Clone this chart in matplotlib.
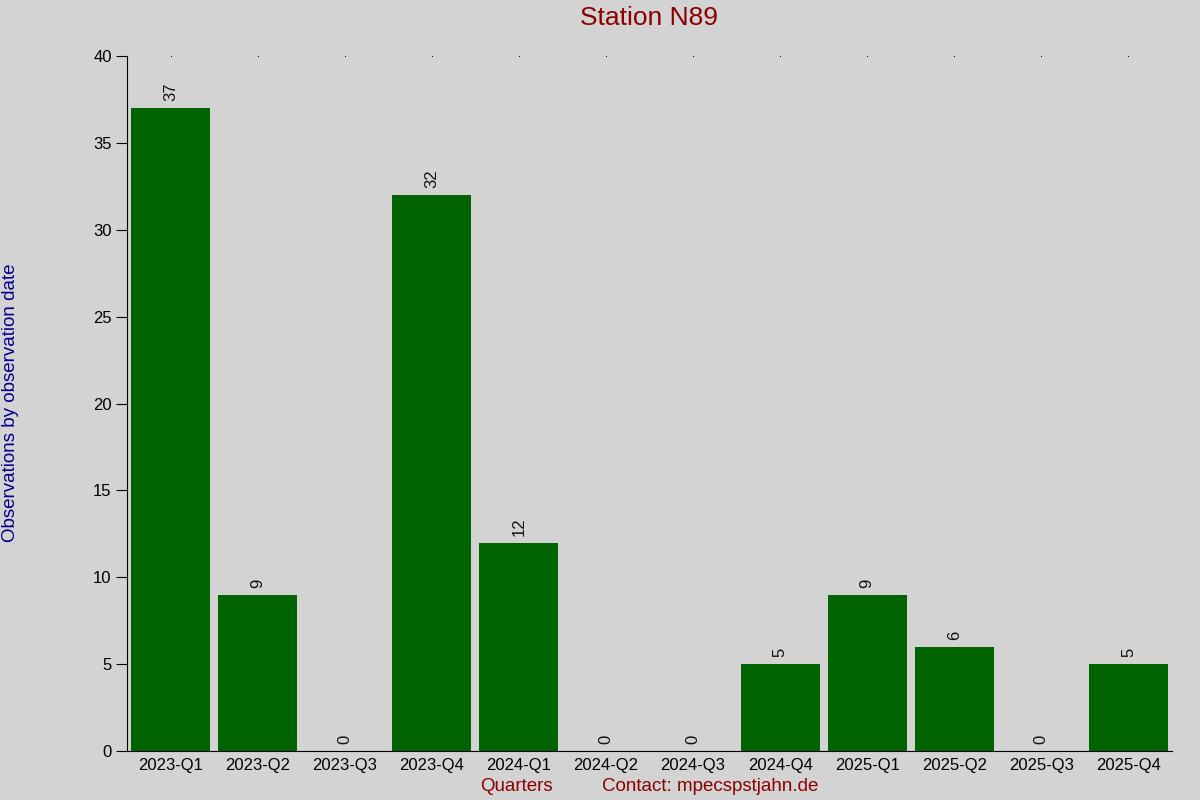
import matplotlib
matplotlib.use("Agg")
import matplotlib.pyplot as plt

quarters = ["2023-Q1", "2023-Q2", "2023-Q3", "2023-Q4", "2024-Q1", "2024-Q2",
            "2024-Q3", "2024-Q4", "2025-Q1", "2025-Q2", "2025-Q3", "2025-Q4"]
counts = [37, 9, 0, 32, 12, 0, 0, 5, 9, 6, 0, 5]
yticks = [0, 5, 10, 15, 20, 25, 30, 35, 40]

plt.rcParams['font.family'] = ['Liberation Sans', 'DejaVu Sans']
bg = '#d3d3d3'

fig = plt.figure(figsize=(12, 8), dpi=100, facecolor=bg)
ax = fig.add_axes([127/1200, 1-751/800, (1172-127)/1200, (751-56)/800], facecolor=bg)

x = list(range(len(quarters)))
ax.bar(x, counts, width=0.91, color='#006400')
for xi, v in zip(x, counts):
    ax.text(xi, v + 0.4, str(v), rotation=90, ha='center', va='bottom', fontsize=12, color='#111111')

ax.set_xlim(-0.5, 11.5)
ax.set_ylim(0, 40)
ax.set_yticks(yticks)
ax.set_xticks(x)
ax.set_xticklabels(quarters, fontsize=12)
ax.tick_params(axis='y', labelsize=12, length=8, direction='out', pad=3)
ax.tick_params(axis='x', length=0, pad=5)
for s in ['top', 'right']:
    ax.spines[s].set_visible(False)

# tiny dots along the top at each category
ax.plot(x, [40]*len(x), linestyle='none', marker='s', markersize=0.6, markeredgewidth=0,
        color='black', clip_on=False)

fig.text(649.5/1200, 1-18/800, "Station N89", ha='center', va='center', fontsize=19, color='#8b0000')
fig.text(11/1200, 1-403/800, "Observations by observation date", rotation=90,
         ha='center', va='center', fontsize=13.5, color='#00008b')
fig.text(516/1200, 1-786.5/800, "Quarters", ha='center', va='center', fontsize=13.5, color='#8b0000')
fig.text(710/1200, 1-786.5/800, "Contact: mpecspstjahn.de", ha='center', va='center', fontsize=13.5, color='#8b0000')

fig.savefig("out.png", dpi=100, facecolor=bg)
